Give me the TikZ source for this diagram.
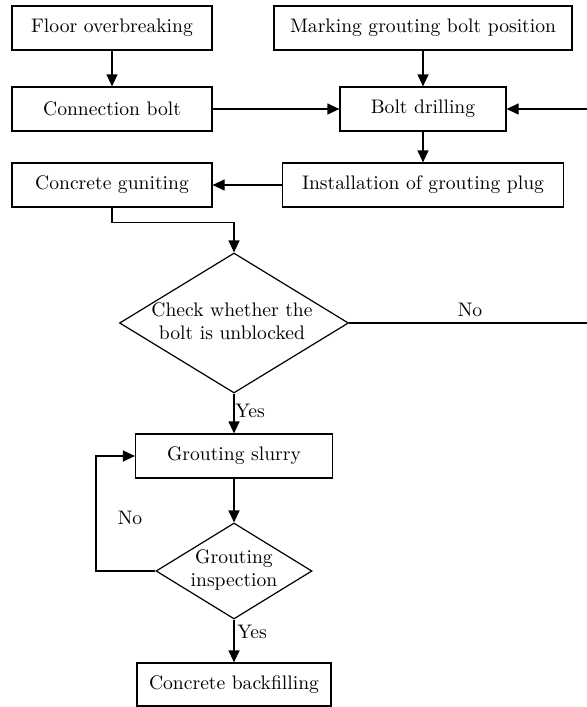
\documentclass[tikz,border=0pt]{standalone}
\usepackage{tikz}
\usetikzlibrary{arrows.meta,positioning,shapes.geometric}
\tikzset{
  box/.style={rectangle, draw=black, fill=white, line width=0.6pt, align=center,
              inner sep=0pt, font=\fontsize{9.8}{11.5}\selectfont, minimum height=22pt},
  decision/.style={diamond, draw=black, line width=0.6pt, inner sep=0pt},
  txt/.style={align=center, inner sep=0pt, font=\fontsize{9.8}{11.5}\selectfont},
  lbl/.style={font=\fontsize{9.8}{11.5}\selectfont, inner sep=0pt},
  flow/.style={-{Triangle[length=6pt,width=5.5pt]}, draw=black, line width=0.6pt},
  plain/.style={draw=black, line width=0.6pt}
}
\begin{document}
\begin{tikzpicture}[x=0.5pt, y=-0.5pt]
  \useasboundingbox (0,0) rectangle (586,707);
  \node[box, minimum width=100pt] (fo) at (112,28) {Floor overbreaking};
  \node[box, minimum width=149pt] (mk) at (423,28) {Marking grouting bolt position};
  \node[box, minimum width=100pt] (cb) at (112,109) {Connection bolt};
  \node[box, minimum width=83pt] (bd) at (423,109) {Bolt drilling};
  \node[box, minimum width=100pt] (cg) at (112,185) {Concrete guniting};
  \node[box, minimum width=140.5pt] (ip) at (423,185) {Installation of grouting plug};
  \node[decision, minimum width=114.5pt, minimum height=70pt] (ck) at (234,323) {};
  \node[txt] (ckt) at (232,321) {Check whether the\\bolt is unblocked};
  \node[box, minimum width=98.5pt] (gs) at (234,456) {Grouting slurry};
  \node[decision, minimum width=78pt, minimum height=48pt] (gi) at (234,571) {};
  \node[txt] (git) at (234,570) {Grouting\\inspection};
  \node[box, minimum width=97pt, minimum height=21.5pt] (cf) at (234,684.5) {Concrete backfilling};
  \coordinate (ne) at (590,323);
  \coordinate (lw) at (96,571);
  \draw[flow] (fo)--(cb); \draw[flow] (mk)--(bd); \draw[flow] (cb)--(bd);
  \draw[flow] (bd)--(ip); \draw[flow] (ip)--(cg);
  \draw[flow] (cg.south) -- ++(0,15) -| (ck.north);
  \draw[plain] (ck.east) -- (ne); \draw[flow] (ne) |- (bd.east);
  \node[lbl] (no1) at (470,310) {No};
  \draw[flow] (ck.south)--(gs.north);
  \node[lbl, anchor=west] (ys1) at (235,411) {Yes};
  \draw[flow] (gs.south)--(gi.north);
  \draw[flow] (gi.west) -- (lw) |- (gs.west);
  \node[lbl] (no2) at (130,518) {No};
  \draw[flow] (gi.south)--(cf.north);
  \node[lbl, anchor=west] (ys2) at (237,632) {Yes};
\end{tikzpicture}
\end{document}
